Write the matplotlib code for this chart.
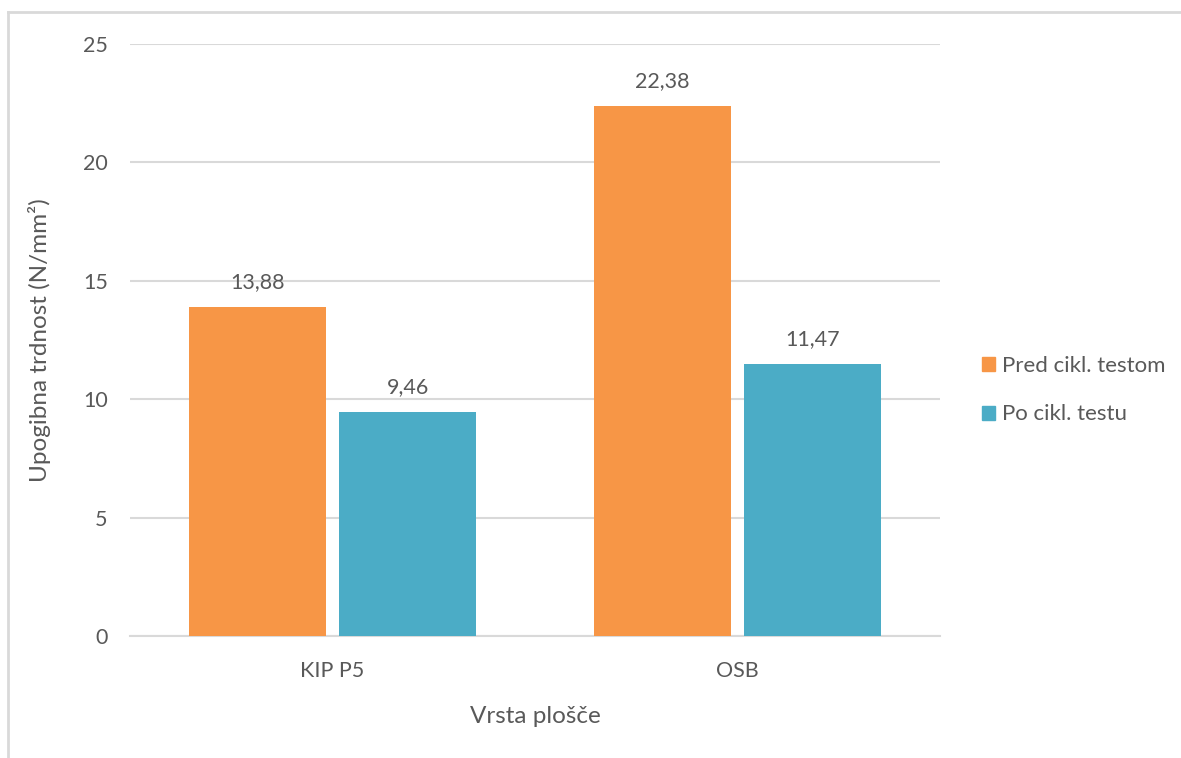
import matplotlib.pyplot as plt
import numpy as np
from matplotlib.lines import Line2D
from matplotlib.patches import Patch

categories = ["KIP P5", "OSB"]
series_names = ["Pred cikl. testom", "Po cikl. testu"]
pred_vals = [13.88, 22.38]
po_vals = [9.46, 11.47]
y_ticks = [0, 5, 10, 15, 20, 25]

plt.rcParams['font.family'] = ['Lato', 'DejaVu Sans']
TXT = '#595959'
ORANGE = '#F79646'
TEAL = '#4BACC6'
GRID = '#D9D9D9'

fig = plt.figure(figsize=(11.81, 7.58), dpi=100)
ax = fig.add_axes([130 / 1181, 1 - 636 / 758, 810 / 1181, 592 / 758])

x = np.arange(len(categories))
w = 0.338
off = 0.186
b1 = ax.bar(x - off, pred_vals, w, color=ORANGE, zorder=3)
b2 = ax.bar(x + off, po_vals, w, color=TEAL, zorder=3)

for bars, vals in ((b1, pred_vals), (b2, po_vals)):
    for rect, v in zip(bars, vals):
        ax.annotate(f"{v:.2f}".replace('.', ','),
                    (rect.get_x() + rect.get_width() / 2, v),
                    xytext=(0, 11), textcoords='offset points',
                    ha='center', va='bottom', fontsize=15.5, color=TXT)

ax.set_xlim(-0.5, 1.5)
ax.set_ylim(0, 25)
ax.set_yticks(y_ticks)
ax.set_yticklabels([str(t) for t in y_ticks])
ax.set_xticks(x)
ax.set_xticklabels(categories)
ax.yaxis.grid(True, color=GRID, linewidth=1.5, zorder=0)
ax.set_axisbelow(True)
for s in ('top', 'right', 'left'):
    ax.spines[s].set_visible(False)
ax.spines['bottom'].set_color(GRID)
ax.spines['bottom'].set_linewidth(1.5)
ax.tick_params(axis='both', length=0, labelsize=15.5, colors=TXT)
ax.tick_params(axis='y', pad=16)
ax.tick_params(axis='x', pad=18)

ax.set_xlabel("Vrsta plošče", fontsize=17.5, color=TXT, labelpad=18)
ax.set_ylabel("Upogibna trdnost (N/mm²)", fontsize=17.5, color=TXT)
ax.yaxis.set_label_coords(-0.0975, 0.5)

handles = [Patch(color=ORANGE), Patch(color=TEAL)]
fig.legend(handles, series_names, loc='center left',
           bbox_to_anchor=(982 / 1181, 1 - 390 / 758), frameon=False,
           borderpad=0, borderaxespad=0,
           fontsize=16, labelcolor=TXT, handlelength=0.6, handleheight=0.6,
           handletextpad=0.3, labelspacing=1.3)

# Outer chart frame (left and top edges)
fig.add_artist(Line2D([8 / 1181, 8 / 1181], [0, 1 - 12 / 758], transform=fig.transFigure,
                      color=GRID, linewidth=2))
fig.add_artist(Line2D([8 / 1181, 1], [1 - 12 / 758, 1 - 12 / 758], transform=fig.transFigure,
                      color=GRID, linewidth=2))

fig.savefig("out.png", dpi=100)
